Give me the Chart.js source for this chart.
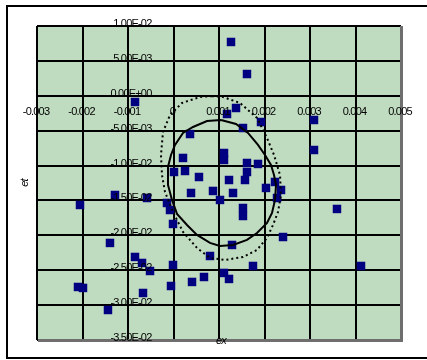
<!DOCTYPE html>
<html>
<head>
<meta charset="utf-8">
<script src="https://cdn.jsdelivr.net/npm/chart.js@4/dist/chart.umd.min.js"></script>
<style>
  html, body { margin: 0; padding: 0; background: #ffffff; }
  #wrap { width: 427px; height: 360px; }
</style>
</head>
<body>
<div id="wrap"><canvas id="strainChart" width="427" height="360"></canvas></div>
<script>
// Axis ticks and their printed labels
const xTickValues = [-0.003, -0.002, -0.001, 0, 0.001, 0.002, 0.003, 0.004, 0.005];
const xTickLabels = ['-0.003', '-0.002', '-0.001', '0', '0.001', '0.002', '0.003', '0.004', '0.005'];
const yTickValues = [0.01, 0.005, 0, -0.005, -0.01, -0.015, -0.02, -0.025, -0.03, -0.035];
const yTickLabels = ['1.00E-02', '5.00E-03', '0.00E+00', '-5.00E-03', '-1.00E-02',
                     '-1.50E-02', '-2.00E-02', '-2.50E-02', '-3.00E-02', '-3.50E-02'];

// Measured strain pairs (ex, et)
const exValues = [
  0.001264, 0.001615, -0.000846, 0.001374, 0.001176, 0.001923, 0.003088, 0.000363,
  0.001527, 0.003088, 0.000209, 0.001110, 0.001110, 0.001615, 0.001857, 0.000011,
  0.000253, 0.000560, 0.001615, 0.001220, 0.001571, 0.002231, 0.002363, 0.002033,
  0.001308, 0.000868, 0.000385, 0.001022, 0.002275, 0.001527, 0.001527, -0.001286,
  -0.000582, -0.002055, -0.000143, -0.000077, -0.000011, -0.001396, 0.002407, 0.001286,
  0.000802, -0.000846, -0.000692, -0.000516, -0.000011, 0.001747, 0.004121, 0.001110,
  0.001220, 0.000407, 0.000670, -0.000055, -0.002099, -0.001989, -0.000670, -0.001440,
  0.003593
];
const etValues = [
  0.00771, 0.00312, -0.00089, -0.00175, -0.00261, -0.00376, -0.00347, -0.00548,
  -0.00462, -0.00777, -0.00891, -0.00820, -0.00920, -0.00963, -0.00977, -0.01092,
  -0.01078, -0.01164, -0.01092, -0.01207, -0.01207, -0.01235, -0.01350, -0.01321,
  -0.01393, -0.01364, -0.01393, -0.01493, -0.01465, -0.01608, -0.01723, -0.01422,
  -0.01465, -0.01565, -0.01536, -0.01637, -0.01837, -0.02109, -0.02024, -0.02138,
  -0.02296, -0.02310, -0.02396, -0.02511, -0.02425, -0.02439, -0.02439, -0.02539,
  -0.02625, -0.02668, -0.02597, -0.02726, -0.02740, -0.02754, -0.02826, -0.03070,
  -0.01622
];

// Inner boundary (solid outline)
const innerEx = [
  0.001044, 0.001374, 0.001637, 0.001857, 0.002011, 0.002143, 0.002209, 0.002253,
  0.002231, 0.002165, 0.002055, 0.001835, 0.001615, 0.001308, 0.001022, 0.000802,
  0.000516, 0.000297, 0.000077, -0.000033, -0.000121, -0.000121, -0.000055, 0.000033,
  0.000209, 0.000429, 0.000736, 0.001044
];
const innerEt = [
  -0.00347, -0.00404, -0.00533, -0.00705, -0.00848, -0.00991, -0.01135, -0.01278,
  -0.01493, -0.01679, -0.01822, -0.01966, -0.02066, -0.02138, -0.02152, -0.02109,
  -0.01994, -0.01851, -0.01693, -0.01493, -0.01278, -0.01020, -0.00848, -0.00705,
  -0.00533, -0.00447, -0.00361, -0.00347
];

// Outer boundary (dotted outline)
const outerEx = [
  0.000846, 0.001088, 0.001462, 0.001835, 0.002055, 0.002209, 0.002341, 0.002363,
  0.002297, 0.002187, 0.002055, 0.001835, 0.001527, 0.001132, 0.000802, 0.000516,
  0.000209, -0.000011, -0.000187, -0.000253, -0.000275, -0.000231, -0.000077, 0.000187,
  0.000582, 0.000846
];
const outerEt = [
  -0.00003, -0.00017, -0.00103, -0.00318, -0.00605, -0.00848, -0.01135, -0.01421,
  -0.01665, -0.01851, -0.02037, -0.02209, -0.02310, -0.02353, -0.02324, -0.02181,
  -0.01951, -0.01665, -0.01378, -0.01135, -0.00848, -0.00519, -0.00275, -0.00103,
  -0.00017, -0.00003
];

const toPoints = (xs, ys) => xs.map((x, i) => ({ x: x, y: ys[i] }));

const LABEL_FONT = '11px "Liberation Sans", Arial, sans-serif';
const TITLE_FONT = 'italic 11px "Liberation Sans", Arial, sans-serif';

// Page frame, plot fill, plot shadow edges and axis texts
const decorations = {
  id: 'decorations',
  beforeDraw(chart) {
    const ctx = chart.ctx;
    const a = chart.chartArea;
    ctx.save();
    ctx.fillStyle = '#ffffff';
    ctx.fillRect(0, 0, chart.width, chart.height);
    ctx.strokeStyle = '#000000';
    ctx.lineWidth = 2;
    ctx.strokeRect(7, 6, 440, 352);
    ctx.fillStyle = '#C0DCC0';
    ctx.fillRect(a.left, a.top, a.right - a.left, a.bottom - a.top);
    ctx.restore();
  },
  afterDraw(chart) {
    const ctx = chart.ctx;
    const a = chart.chartArea;
    const xs = chart.scales.x;
    const ys = chart.scales.y;
    ctx.save();
    // grey edge on the right and bottom of the plot
    ctx.fillStyle = '#6e6e6e';
    ctx.fillRect(a.right - 1, a.top, 3, a.bottom - a.top + 2);
    ctx.fillRect(a.left + 1, a.bottom - 1, a.right - a.left + 1, 3);

    ctx.fillStyle = '#000000';
    ctx.font = LABEL_FONT;
    if ('letterSpacing' in ctx) ctx.letterSpacing = '-0.8px';
    ctx.textBaseline = 'middle';

    // value labels along the et axis (sitting left of ex = 0)
    const yAxisX = xs.getPixelForValue(0);
    ctx.textAlign = 'right';
    yTickValues.forEach((v, i) => {
      ctx.fillText(yTickLabels[i], yAxisX - 22, ys.getPixelForValue(v) - 2);
    });

    // value labels along the ex axis (just under et = 0)
    const xAxisY = ys.getPixelForValue(0);
    ctx.textAlign = 'center';
    xTickValues.forEach((v, i) => {
      ctx.fillText(xTickLabels[i], xs.getPixelForValue(v) - 1, xAxisY + 16);
    });

    // axis titles
    ctx.font = TITLE_FONT;
    ctx.fillText('ex', (a.left + a.right) / 2 + 2, a.bottom + 1);
    ctx.translate(25, (a.top + a.bottom) / 2);
    ctx.rotate(-Math.PI / 2);
    ctx.fillText('et', 0, 0);
    ctx.restore();
  }
};

new Chart(document.getElementById('strainChart'), {
  type: 'scatter',
  data: {
    datasets: [
      {
        label: 'inner',
        data: toPoints(innerEx, innerEt),
        showLine: true,
        borderColor: '#000000',
        borderWidth: 2,
        pointRadius: 0,
        tension: 0,
        fill: false
      },
      {
        label: 'outer',
        data: toPoints(outerEx, outerEt),
        showLine: true,
        borderColor: '#000000',
        borderWidth: 2,
        borderDash: [2, 3],
        pointRadius: 0,
        tension: 0,
        fill: false
      },
      {
        label: 'et vs ex',
        data: toPoints(exValues, etValues),
        pointStyle: 'rect',
        pointRadius: 6,
        pointHoverRadius: 6,
        backgroundColor: '#000080',
        borderColor: '#000080',
        borderWidth: 0,
        showLine: false
      }
    ]
  },
  options: {
    responsive: false,
    animation: false,
    devicePixelRatio: 1,
    layout: { padding: { left: 37, top: 26, right: 26, bottom: 20 } },
    plugins: {
      legend: { display: false },
      tooltip: { enabled: false }
    },
    scales: {
      x: {
        type: 'linear',
        position: 'bottom',
        min: -0.003,
        max: 0.005,
        ticks: { display: false, stepSize: 0.001 },
        grid: { color: '#000000', lineWidth: 2, drawTicks: false },
        border: { display: false }
      },
      y: {
        type: 'linear',
        position: 'left',
        min: -0.035,
        max: 0.01,
        ticks: { display: false, stepSize: 0.005 },
        grid: { color: '#000000', lineWidth: 2, drawTicks: false },
        border: { display: false }
      }
    }
  },
  plugins: [decorations]
});
</script>
</body>
</html>
